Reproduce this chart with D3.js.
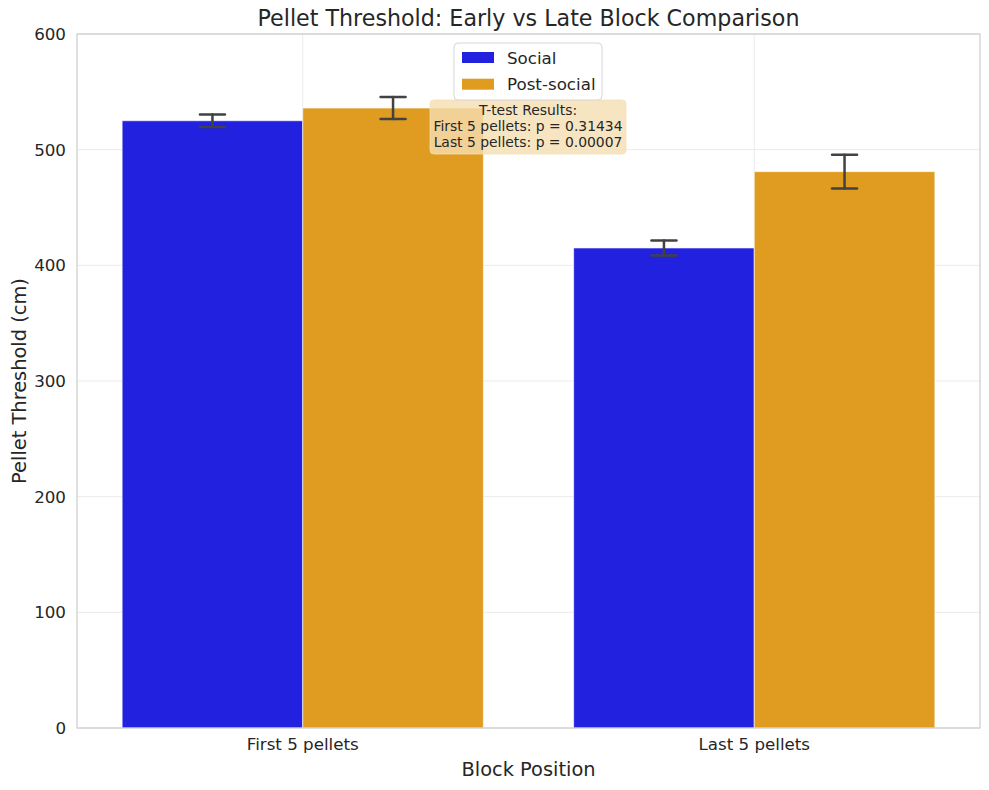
<!DOCTYPE html>
<meta charset="utf-8">
<head>
    <title>Pellet Threshold: Early vs Late Block Comparison</title>
    <script type="text/javascript" src="https://cdn.jsdelivr.net/npm/d3@7"></script>
    <style>
        body { margin: 0; background: #fff; }
        text { font-family: "DejaVu Sans", sans-serif; fill: #262626; }
    </style>
</head>
<body>
<script>
    // data
    var categories = ["First 5 pellets", "Last 5 pellets"];
    var groups = ["Social", "Post-social"];
    var socialMeans = [525, 415];
    var socialErr = [5.5, 6.5];
    var postMeans = [536, 481];
    var postErr = [9.5, 14.5];
    var yTicks = [0, 100, 200, 300, 400, 500, 600];
    var pLabels = ["0.31434", "0.00007"];

    var colors = {"Social": "#2121df", "Post-social": "#df9c20"};

    var width = 989, height = 790;
    var margin = {top: 34, right: 9, bottom: 62, left: 77};

    var svg = d3.select("body").append("svg")
        .attr("width", width)
        .attr("height", height);

    var x0 = d3.scaleBand()
        .domain(categories)
        .range([margin.left, width - margin.right]);

    var x1 = d3.scaleBand()
        .domain(groups)
        .range([0, x0.bandwidth()])
        .paddingOuter(0.25);

    var y = d3.scaleLinear()
        .domain([0, 600])
        .range([height - margin.bottom, margin.top]);

    // build rows for bars from the arrays
    var rows = [];
    categories.forEach(function(c, i) {
        rows.push({cat: c, group: "Social", mean: socialMeans[i], err: socialErr[i]});
        rows.push({cat: c, group: "Post-social", mean: postMeans[i], err: postErr[i]});
    });

    // grid
    var grid = svg.append("g").attr("id", "grid");
    grid.selectAll(".hgrid")
        .data(yTicks)
        .enter()
        .append("line")
        .attr("x1", margin.left)
        .attr("x2", width - margin.right)
        .attr("y1", function(d) { return y(d); })
        .attr("y2", function(d) { return y(d); })
        .attr("stroke", "#ebebeb")
        .attr("stroke-width", 1);
    grid.selectAll(".vgrid")
        .data(categories)
        .enter()
        .append("line")
        .attr("x1", function(d) { return x0(d) + x0.bandwidth() / 2; })
        .attr("x2", function(d) { return x0(d) + x0.bandwidth() / 2; })
        .attr("y1", margin.top)
        .attr("y2", height - margin.bottom)
        .attr("stroke", "#ebebeb")
        .attr("stroke-width", 1);

    // bars
    svg.append("g").attr("id", "bars")
        .selectAll("rect")
        .data(rows)
        .enter()
        .append("rect")
        .attr("x", function(d) { return x0(d.cat) + x1(d.group); })
        .attr("y", function(d) { return y(d.mean); })
        .attr("width", x1.bandwidth())
        .attr("height", function(d) { return y(0) - y(d.mean); })
        .attr("fill", function(d) { return colors[d.group]; })
        .attr("stroke", "#ffffff")
        .attr("stroke-opacity", 0.6)
        .attr("stroke-width", 1);

    // error bars
    var capW = 25;
    var eb = svg.append("g").attr("id", "errorbars")
        .selectAll("g")
        .data(rows)
        .enter()
        .append("g")
        .attr("stroke", "#424242")
        .attr("stroke-width", 2.5)
        .attr("stroke-linecap", "round");
    function cx(d) { return x0(d.cat) + x1(d.group) + x1.bandwidth() / 2; }
    eb.append("line")
        .attr("x1", cx).attr("x2", cx)
        .attr("y1", function(d) { return y(d.mean - d.err); })
        .attr("y2", function(d) { return y(d.mean + d.err); });
    eb.append("line")
        .attr("x1", function(d) { return cx(d) - capW / 2; })
        .attr("x2", function(d) { return cx(d) + capW / 2; })
        .attr("y1", function(d) { return y(d.mean + d.err); })
        .attr("y2", function(d) { return y(d.mean + d.err); });
    eb.append("line")
        .attr("x1", function(d) { return cx(d) - capW / 2; })
        .attr("x2", function(d) { return cx(d) + capW / 2; })
        .attr("y1", function(d) { return y(d.mean - d.err); })
        .attr("y2", function(d) { return y(d.mean - d.err); });

    // frame
    svg.append("rect")
        .attr("x", margin.left)
        .attr("y", margin.top)
        .attr("width", width - margin.left - margin.right)
        .attr("height", height - margin.top - margin.bottom)
        .attr("fill", "none")
        .attr("stroke", "#cccccc")
        .attr("stroke-width", 1.2);

    // axes (no tick marks, labels only)
    var yAxis = svg.append("g")
        .attr("transform", "translate(" + margin.left + ",0)")
        .call(d3.axisLeft(y).tickValues(yTicks).tickSize(0).tickPadding(11));
    yAxis.select(".domain").remove();
    yAxis.selectAll("text")
        .attr("font-size", "16.7px")
        .style("font-family", "DejaVu Sans")
        .attr("fill", "#262626");

    var xAxis = svg.append("g")
        .attr("transform", "translate(0," + (height - margin.bottom) + ")")
        .call(d3.axisBottom(x0).tickSize(0).tickPadding(10));
    xAxis.select(".domain").remove();
    xAxis.selectAll("text")
        .attr("font-size", "16.7px")
        .style("font-family", "DejaVu Sans")
        .attr("fill", "#262626");

    var plotCx = (margin.left + width - margin.right) / 2;

    // title and axis labels
    svg.append("text")
        .attr("x", plotCx)
        .attr("y", 26)
        .attr("text-anchor", "middle")
        .attr("font-size", "22.2px")
        .text("Pellet Threshold: Early vs Late Block Comparison");

    svg.append("text")
        .attr("x", plotCx)
        .attr("y", 776)
        .attr("text-anchor", "middle")
        .attr("font-size", "19.4px")
        .text("Block Position");

    svg.append("text")
        .attr("transform", "translate(26," + ((margin.top + height - margin.bottom) / 2) + ") rotate(-90)")
        .attr("text-anchor", "middle")
        .attr("font-size", "19.4px")
        .text("Pellet Threshold (cm)");

    // t-test annotation box
    var tLines = ["T-test Results:"];
    categories.forEach(function(c, i) { tLines.push(c + ": p = " + pLabels[i]); });
    var tBox = svg.append("g").attr("id", "ttest");
    tBox.append("rect")
        .attr("x", 430)
        .attr("y", 100)
        .attr("width", 196)
        .attr("height", 54)
        .attr("rx", 4)
        .attr("fill", "#f5deb3")
        .attr("fill-opacity", 0.8)
        .attr("stroke", "#f5deb3")
        .attr("stroke-opacity", 0.8);
    tBox.selectAll("text")
        .data(tLines)
        .enter()
        .append("text")
        .attr("x", 528)
        .attr("y", function(d, i) { return 115 + i * 16.2; })
        .attr("text-anchor", "middle")
        .attr("font-size", "13.9px")
        .text(function(d) { return d; });

    // legend
    var legend = svg.append("g").attr("id", "legend");
    legend.append("rect")
        .attr("x", 454)
        .attr("y", 43)
        .attr("width", 148)
        .attr("height", 57)
        .attr("rx", 4)
        .attr("fill", "#ffffff")
        .attr("fill-opacity", 0.8)
        .attr("stroke", "#d6d6d6");
    legend.selectAll(".lpatch")
        .data(groups)
        .enter()
        .append("rect")
        .attr("x", 462)
        .attr("y", function(d, i) { return 52 + i * 26.7; })
        .attr("width", 32)
        .attr("height", 11)
        .attr("fill", function(d) { return colors[d]; });
    legend.selectAll(".ltext")
        .data(groups)
        .enter()
        .append("text")
        .attr("x", 507)
        .attr("y", function(d, i) { return 63.5 + i * 26.7; })
        .attr("font-size", "16.7px")
        .text(function(d) { return d; });
</script>
</body>
</html>
